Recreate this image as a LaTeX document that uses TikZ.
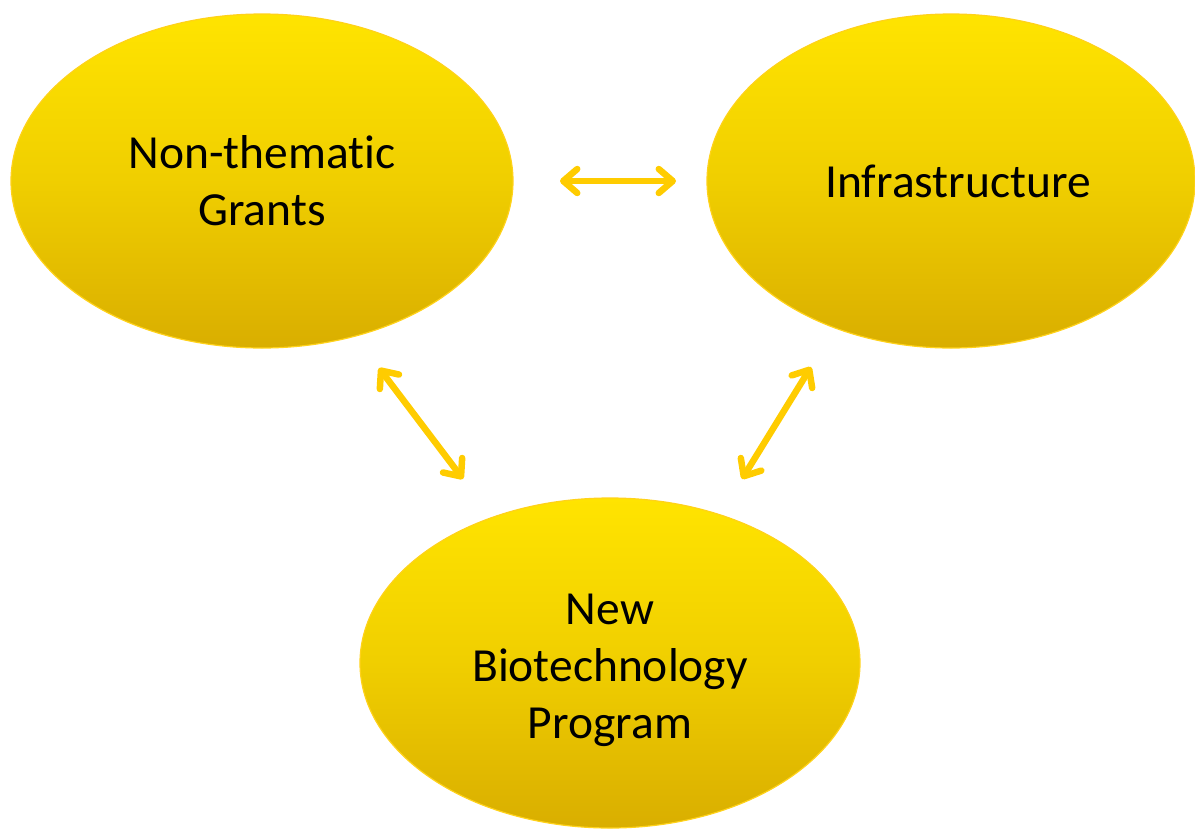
\documentclass[tikz,border=0pt]{standalone}
\usepackage{fontspec}
\setmainfont{Carlito}[Ligatures={NoCommon}]
\usetikzlibrary{shapes.geometric,arrows.meta}
\definecolor{ytop}{HTML}{FFE400}
\definecolor{ybot}{HTML}{D9AE00}
\definecolor{yedge}{HTML}{FFD21A}
\definecolor{yarrow}{HTML}{FFCC00}
\tikzset{
  blob/.style={ellipse, inner sep=0pt, draw=yedge, line width=1.2pt,
    top color=ytop, bottom color=ybot, middle color=ytop!60!ybot,
    font=\fontsize{47.5}{57}\selectfont, align=center, text=black},
  barb/.tip={Straight Barb[length=14pt,width=24pt,line cap=round,line join=round]},
  link/.style={draw=yarrow, line width=6.5pt, line cap=round, barb-barb}
}
\begin{document}
\begin{tikzpicture}[x=1pt,y=-1pt]
\useasboundingbox (0,0) rectangle (1195,828);
\node[blob, minimum width=502pt, minimum height=334pt] (ntg) at (262,181) {Non-thematic\\Grants};
\node[blob, minimum width=488pt, minimum height=334pt] (inf) at (951,181) {\hspace*{14pt}Infrastructure};
\node[blob, minimum width=500pt, minimum height=330pt] (nbp) at (610,663) {\\[-12pt]New\\Biotechnology\\Program};
\coordinate (h1) at (560,181);
\coordinate (h2) at (676,181);
\coordinate (l1) at (379,368);
\coordinate (l2) at (463,479);
\coordinate (r1) at (811,367);
\coordinate (r2) at (742,479);
\draw[link] (h1) -- (h2);
\draw[link] (l1) -- (l2);
\draw[link] (r1) -- (r2);
\end{tikzpicture}
\end{document}
